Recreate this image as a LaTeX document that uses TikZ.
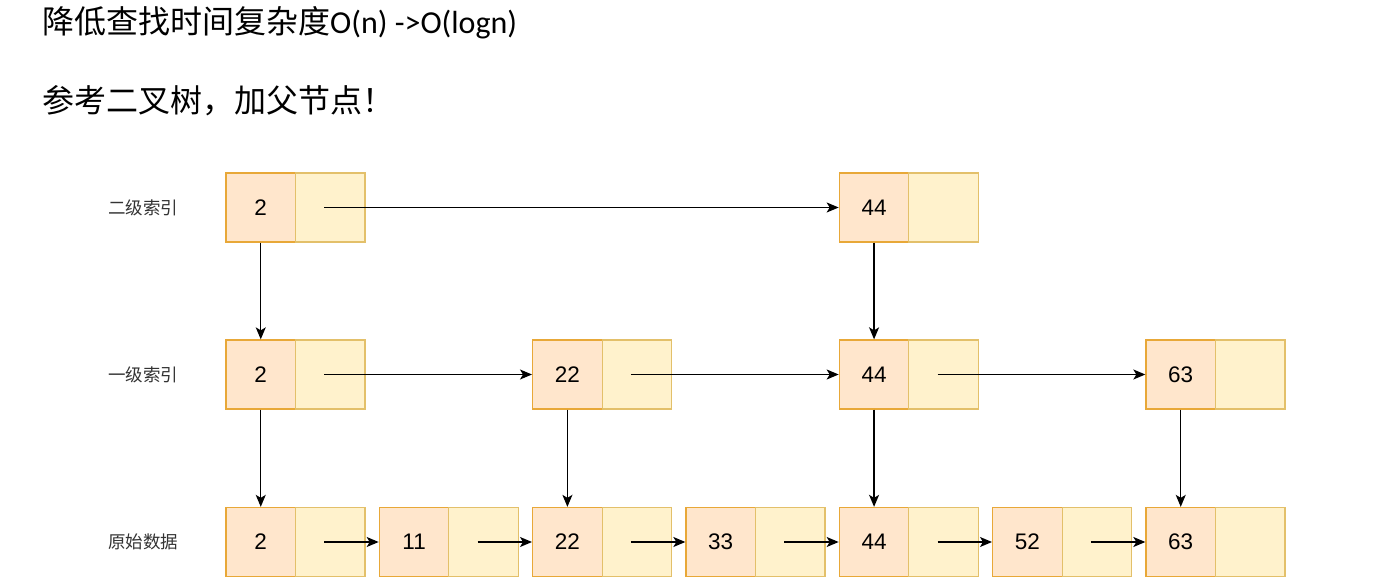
\documentclass[tikz,border=0pt]{standalone}
\usepackage{fontspec}
\setmainfont{Carlito}
\newfontfamily\cjk{Noto Sans CJK SC}
\newfontfamily\numfont{Liberation Sans}
\usetikzlibrary{arrows.meta}
\definecolor{lfill}{HTML}{FFE6CC}
\definecolor{rfill}{HTML}{FFF2CC}
\definecolor{lline}{HTML}{E8A838}
\definecolor{rline}{HTML}{E3C06A}
\tikzset{
  lcell/.style={draw=lline, fill=lfill, line width=1.3pt, minimum width=69.5pt, minimum height=69pt, inner sep=0pt, font=\numfont\fontsize{22.5}{22.5}\selectfont},
  rcell/.style={draw=rline, fill=rfill, line width=1.3pt, minimum width=69.5pt, minimum height=69pt, inner sep=0pt},
  rowlab/.style={anchor=west, inner sep=0pt, font=\cjk\fontsize{17.5}{17.5}\selectfont, text=black!80},
  link/.style={line width=1.3pt, -{Stealth[length=12pt,width=10pt,inset=3pt]}},
  title/.style={anchor=west, inner sep=0pt, font=\fontsize{32}{32}\selectfont}
}
\begin{document}
\begin{tikzpicture}[x=1pt,y=-1pt]
\useasboundingbox (0,0) rectangle (1376,585);
\fill[white] (0,0) rectangle (1376,585);
\node[title] (t1) at (42,23) {{\cjk 降低查找时间复杂度}O(n) ->O(logn)};
\node[title] (t2) at (42,101) {\cjk 参考二叉树，加父节点！};
\node[rowlab] (lab1) at (108,208) {二级索引};
\node[rowlab] (lab2) at (108,375) {一级索引};
\node[rowlab] (lab3) at (108,542) {原始数据};
% row 1
\foreach \c/\v in {0/2,4/44}{
  \node[lcell] (a\c L) at ({226+\c*153.33+34.75},207.5) {\v};
  \node[rcell] (a\c R) at ({226+\c*153.33+104.25},207.5) {};
}
% row 2
\foreach \c/\v in {0/2,2/22,4/44,6/63}{
  \node[lcell] (b\c L) at ({226+\c*153.33+34.75},374.5) {\v};
  \node[rcell] (b\c R) at ({226+\c*153.33+104.25},374.5) {};
}
% row 3
\foreach \c/\v in {0/2,1/11,2/22,3/33,4/44,5/52,6/63}{
  \node[lcell] (c\c L) at ({226+\c*153.33+34.75},542) {\v};
  \node[rcell] (c\c R) at ({226+\c*153.33+104.25},542) {};
}
% horizontal links
\draw[link] ([xshift=-6pt]a0R.center) -- (a4L.west);
\foreach \p/\n in {0/2,2/4,4/6}{
  \draw[link] ([xshift=-6pt]b\p R.center) -- (b\n L.west);
}
\foreach \p/\n in {0/1,1/2,2/3,3/4,4/5,5/6}{
  \draw[link] ([xshift=-6pt]c\p R.center) -- (c\n L.west);
}
% vertical links
\foreach \c in {0,4}{
  \draw[link] (a\c L.south) -- (b\c L.north);
}
\foreach \c in {0,2,4,6}{
  \draw[link] (b\c L.south) -- (c\c L.north);
}
\end{tikzpicture}
\end{document}
